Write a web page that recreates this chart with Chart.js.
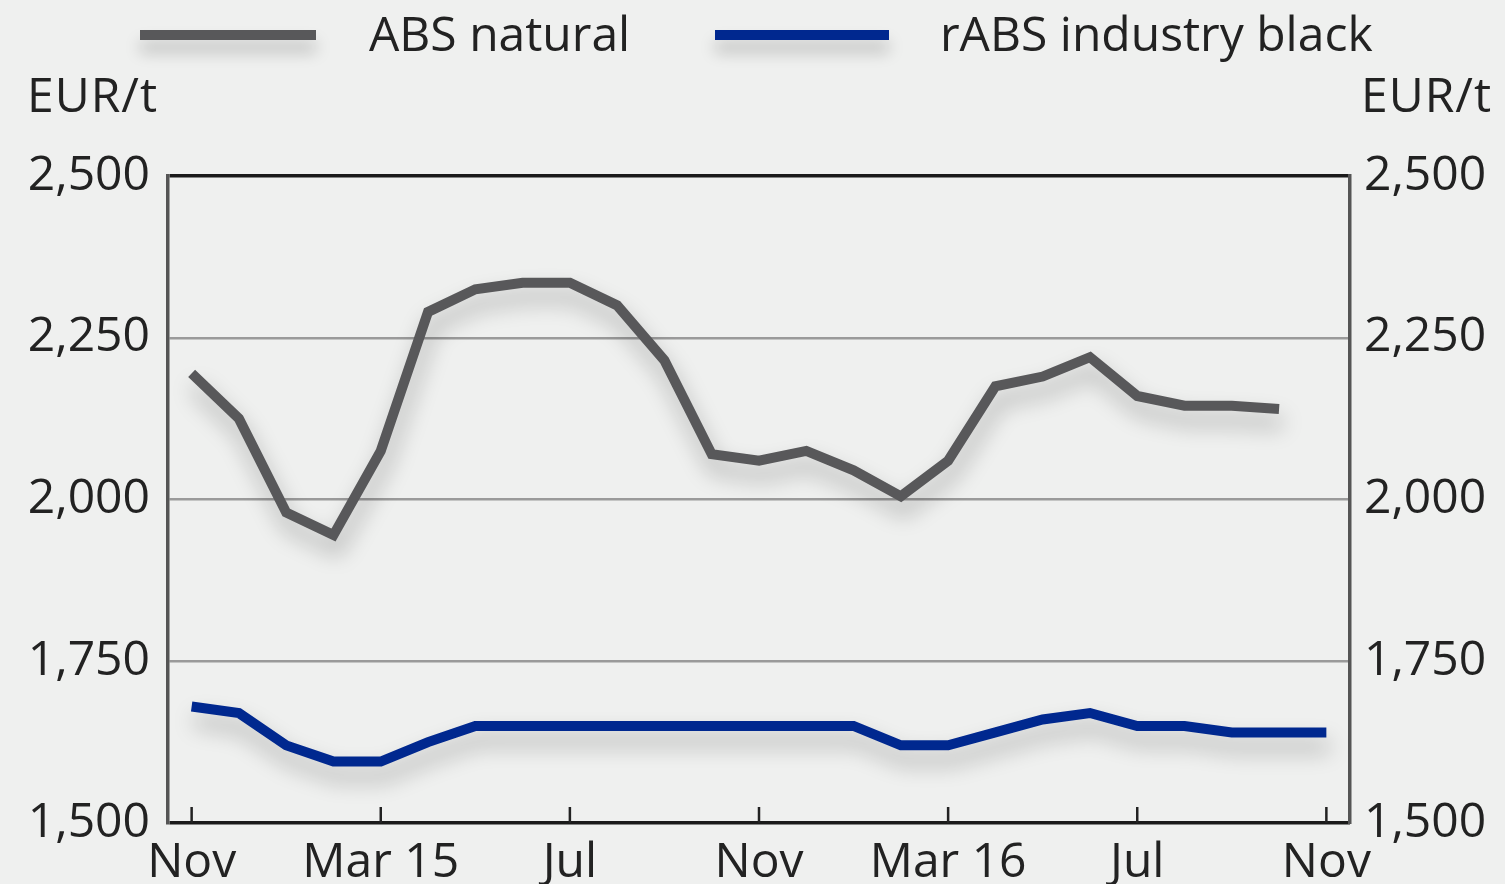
<!DOCTYPE html>
<html>
<head>
<meta charset="utf-8">
<script src="https://cdn.jsdelivr.net/npm/chart.js@4.4.0/dist/chart.umd.min.js"></script>
<style>
  html, body { margin:0; padding:0; background:#eff0ef; }
  #wrap { position:relative; width:1505px; height:884px; overflow:hidden; font-family:"Open Sans", sans-serif; color:#222; }
  canvas { position:absolute; left:0; top:0; }
  .lg-line { position:absolute; height:10px; box-shadow:0 12px 16px rgba(0,0,0,0.22); }
  .lbl { position:absolute; font-size:48px; line-height:48px; white-space:nowrap; }
</style>
</head>
<body>
<div id="wrap">
  <canvas id="chart" width="1505" height="884"></canvas>
  <div class="lg-line" style="left:140px; top:30px; width:176px; background:#58585a;"></div>
  <div class="lbl" style="left:369px; top:9px;">ABS natural</div>
  <div class="lg-line" style="left:715px; top:30px; width:174px; background:#00288f;"></div>
  <div class="lbl" style="left:940px; top:9px;">rABS industry black</div>
  <div class="lbl" style="left:27px; top:70px; letter-spacing:1px;">EUR/t</div>
  <div class="lbl" style="left:1361px; top:70px; letter-spacing:1px;">EUR/t</div>
</div>
<script>
// monthly, Nov 14 .. Nov 16
const months = ["Nov","Dec","Jan","Feb","Mar 15","Apr","May","Jun","Jul","Aug","Sep","Oct",
                "Nov","Dec","Jan","Feb","Mar 16","Apr","May","Jun","Jul","Aug","Sep","Oct","Nov"];
const absNatural = [2195,2125,1980,1945,2075,2290,2325,2335,2335,2300,2215,2070,
                    2060,2075,2045,2005,2060,2175,2190,2220,2160,2145,2145,2140,null];
const rabsBlack  = [1680,1670,1620,1595,1595,1625,1650,1650,1650,1650,1650,1650,
                    1650,1650,1650,1620,1620,1640,1660,1670,1650,1650,1640,1640,1640];
const yTicks = [1500,1750,2000,2250,2500];

const FONT = {family:"'Open Sans', sans-serif", size:48};
const fmt = v => v.toLocaleString("en-US");

// soft drop shadow under the lines
const lineShadow = {
  id:"lineShadow",
  beforeDatasetDraw(chart){
    const c = chart.ctx;
    c.save();
    c.shadowColor = "rgba(0,0,0,0.28)";
    c.shadowBlur = 22;
    c.shadowOffsetX = 3;
    c.shadowOffsetY = 14;
  },
  afterDatasetDraw(chart){ chart.ctx.restore(); }
};

// short inward tick marks on the bottom frame
const innerTicks = {
  id:"innerTicks",
  afterDatasetsDraw(chart){
    const c = chart.ctx, x = chart.scales.x, b = chart.chartArea.bottom;
    c.save();
    c.strokeStyle = "#222"; c.lineWidth = 2.5;
    months.forEach((m,i)=>{
      if(i%4) return;
      const px = x.getPixelForValue(i);
      c.beginPath(); c.moveTo(px, b-16); c.lineTo(px, b); c.stroke();
    });
    c.restore();
  }
};

const gridColor = ctx => (ctx.tick && (ctx.tick.value===1500 || ctx.tick.value===2500)) ? "#1a1a1a" : "#9a9a9a";
const gridWidth = ctx => (ctx.tick && (ctx.tick.value===1500 || ctx.tick.value===2500)) ? 3.5 : 2.5;

new Chart(document.getElementById("chart"), {
  type:"line",
  data:{
    labels: months,
    datasets:[
      { label:"ABS natural", data:absNatural, borderColor:"#58585a", borderWidth:10,
        pointRadius:0, tension:0, borderCapStyle:"butt", borderJoinStyle:"miter", spanGaps:false },
      { label:"rABS industry black", data:rabsBlack, borderColor:"#00288f", borderWidth:10,
        pointRadius:0, tension:0, borderCapStyle:"butt", borderJoinStyle:"miter" }
    ]
  },
  options:{
    responsive:false, animation:false,
    layout:{ padding:{ top:176 } },
    plugins:{ legend:{display:false}, tooltip:{enabled:false} },
    scales:{
      x:{
        offset:true,
        grid:{ display:false },
        border:{ display:false },
        ticks:{
          autoSkip:false, maxRotation:0, color:"#222", font:FONT, padding:4,
          callback:(v,i)=> i%4===0 ? months[i] : null
        },
        afterFit: s => { s.height = 61; }
      },
      y:{
        position:"left", min:1500, max:2500,
        afterBuildTicks: s => { s.ticks = yTicks.map(v=>({value:v})); },
        grid:{ color:gridColor, lineWidth:gridWidth, drawTicks:false },
        border:{ color:"#555", width:3.5 },
        ticks:{ color:"#222", font:FONT, padding:18, callback:fmt },
        afterFit: s => { s.width = 168; }
      },
      y2:{
        position:"right", min:1500, max:2500,
        afterBuildTicks: s => { s.ticks = yTicks.map(v=>({value:v})); },
        grid:{ drawOnChartArea:false, drawTicks:false },
        border:{ color:"#555", width:3.5 },
        ticks:{ color:"#222", font:FONT, padding:14, callback:fmt },
        afterFit: s => { s.width = 155; }
      }
    }
  },
  plugins:[lineShadow, innerTicks]
});
</script>
</body>
</html>
